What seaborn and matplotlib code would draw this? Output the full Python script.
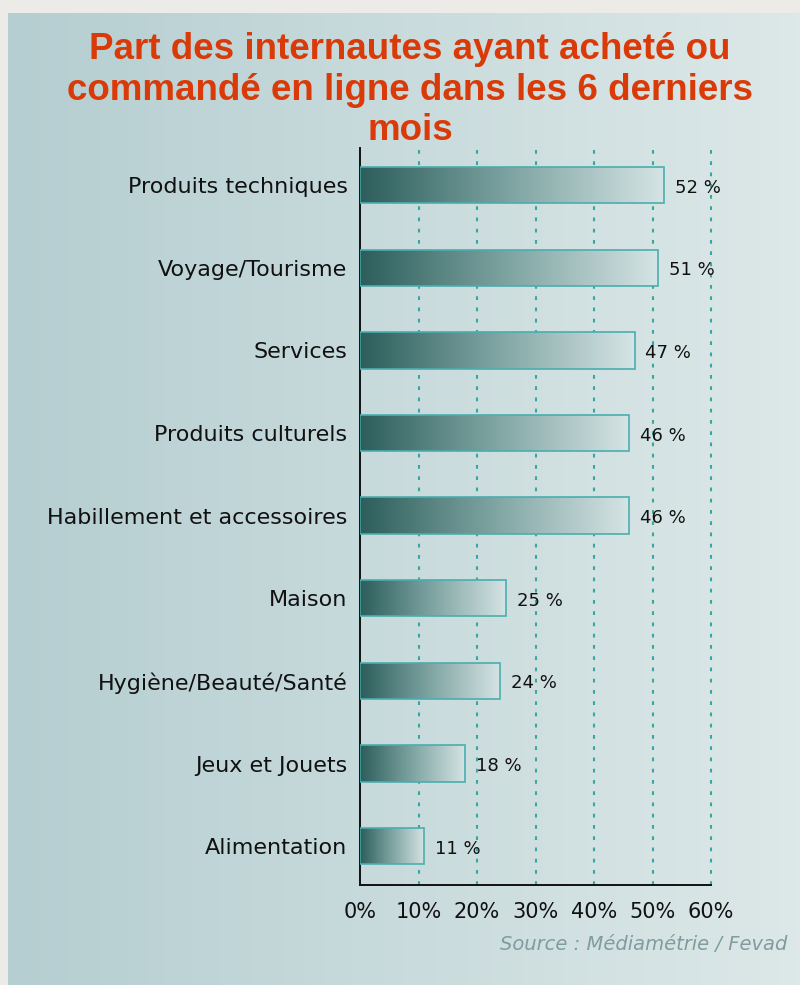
import numpy as np
import pandas as pd
import seaborn as sns
import matplotlib.pyplot as plt
from matplotlib.colors import LinearSegmentedColormap
from matplotlib.ticker import FuncFormatter

categories = [
    "Produits techniques",
    "Voyage/Tourisme",
    "Services",
    "Produits culturels",
    "Habillement et accessoires",
    "Maison",
    "Hygiène/Beauté/Santé",
    "Jeux et Jouets",
    "Alimentation",
]
values = [52, 51, 47, 46, 46, 25, 24, 18, 11]
x_ticks = [0, 10, 20, 30, 40, 50, 60]

title = "Part des internautes ayant acheté ou\ncommandé en ligne dans les 6 derniers\nmois"
source = "Source : Médiamétrie / Fevad"

df = pd.DataFrame({"categorie": categories, "part": values})

sns.set_style("white")
plt.rcParams["font.family"] = ["DejaVu Sans"]

fig = plt.figure(figsize=(8, 9.85), dpi=100)
fig.patch.set_facecolor("#ecebe8")

# panel background with a horizontal gradient
bg = fig.add_axes([8 / 800, 0, 792 / 800, 1 - 13 / 985])
bg_cmap = LinearSegmentedColormap.from_list("bg", ["#b5ced1", "#dde8e8"])
bg.imshow(np.linspace(0, 1, 256).reshape(1, -1), aspect="auto", cmap=bg_cmap,
          extent=[0, 1, 0, 1])
bg.set_axis_off()

ax = fig.add_axes([0.45, 1 - 885 / 985, 0.43875, (885 - 148) / 985])
ax.set_facecolor("none")

sns.barplot(data=df, y="categorie", x="part", orient="h", width=0.44,
            color="#5a8a88", edgecolor="#4aaeae", linewidth=1.2, ax=ax, zorder=3)

# gradient fill inside each bar
bar_cmap = LinearSegmentedColormap.from_list("bar", ["#2c5e5b", "#7fa5a3", "#d6e4e4"])
grad = np.linspace(0, 1, 256).reshape(1, -1)
for patch in ax.patches:
    x0, y0 = patch.get_x(), patch.get_y()
    w, h = patch.get_width(), patch.get_height()
    patch.set_facecolor("none")
    im = ax.imshow(grad, aspect="auto", cmap=bar_cmap,
                   extent=[x0, x0 + w, y0 + h, y0], zorder=2.5)
    im.set_clip_path(patch)

for i, v in enumerate(values):
    ax.text(v + 1.8, i + 0.03, f"{v} %", va="center", ha="left", fontsize=13,
            color="#111111", zorder=4)

ax.set_xlim(0, 60)
ax.set_ylim(8.47, -0.45)
ax.set_xticks(x_ticks)
ax.xaxis.set_major_formatter(FuncFormatter(lambda v, p: f"{int(v)}%"))
ax.set_xlabel("")
ax.set_ylabel("")
ax.tick_params(axis="both", length=0, colors="#111111")
ax.tick_params(axis="x", pad=12, labelsize=15)
ax.tick_params(axis="y", pad=9, labelsize=16)

for xv in x_ticks[1:]:
    ax.axvline(xv, color="#3aa6a3", linestyle=(0, (1.8, 3.6)), linewidth=1.5,
               zorder=1, clip_on=False)

for side in ["top", "right"]:
    ax.spines[side].set_visible(False)
for side in ["left", "bottom"]:
    ax.spines[side].set_color("#111111")
    ax.spines[side].set_linewidth(1.4)

fig.text(0.5125, 1 - 90 / 985, title, ha="center", va="center", fontsize=26.5,
         fontweight="bold", color="#d93a07", linespacing=1.22,
         family=["Liberation Sans", "DejaVu Sans"])

fig.text(787 / 800, 1 - 944 / 985, source, ha="right", va="center",
         fontsize=14, style="italic", color="#819c9e")

fig.savefig("out.png", dpi=100, facecolor=fig.get_facecolor())
